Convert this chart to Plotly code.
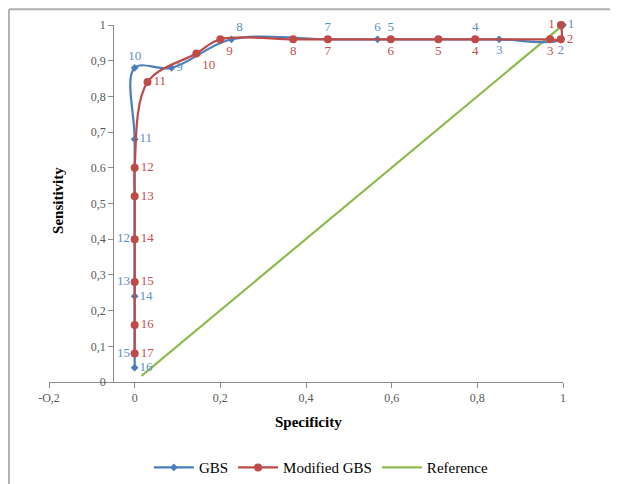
import plotly.graph_objects as go

# GBS series
gbs_x = [1.0, 0.995, 0.851, 0.795, 0.598, 0.567, 0.451, 0.226, 0.086, 0.0, 0.0, 0.0, 0.0, 0.0, 0.0, 0.0]
gbs_y = [1.0, 0.96, 0.96, 0.96, 0.96, 0.96, 0.96, 0.96, 0.88, 0.88, 0.68, 0.40, 0.28, 0.24, 0.08, 0.04]
gbs_labels = [str(i) for i in range(1, 17)]
gbs_pos = ["middle right", "bottom center", "bottom center", "top center", "top center",
           "top center", "top center", "top right", "middle right", "top center",
           "middle right", "middle left", "middle left", "middle right", "middle left",
           "middle right"]

# Modified GBS series
mod_x = [0.995, 0.995, 0.97, 0.795, 0.709, 0.598, 0.451, 0.37, 0.2, 0.144, 0.03,
         0.0, 0.0, 0.0, 0.0, 0.0, 0.0]
mod_y = [1.0, 0.96, 0.96, 0.96, 0.96, 0.96, 0.96, 0.96, 0.96, 0.92, 0.84,
         0.60, 0.52, 0.40, 0.28, 0.16, 0.08]
mod_labels = [str(i) for i in range(1, 18)]
mod_pos = ["middle left", "middle right", "bottom center", "bottom center", "bottom center",
           "bottom center", "bottom center", "bottom center", "bottom right", "bottom right",
           "middle right", "middle right", "middle right", "middle right", "middle right",
           "middle right", "middle right"]

# Reference diagonal
ref_x = [0.016, 1.0]
ref_y = [0.017, 1.0]

x_ticks = [-0.2, 0, 0.2, 0.4, 0.6, 0.8, 1]
x_ticktext = ["-O,2", "0", "0,2", "0,4", "0,6", "0,8", "1"]
y_ticks = [0, 0.1, 0.2, 0.3, 0.4, 0.5, 0.6, 0.7, 0.8, 0.9, 1]
y_ticktext = ["0", "0,1", "0,2", "0,3", "0,4", "0,5", "0.6", "0,7", "0,8", "0,9", "1"]

BLUE = "#4a7ebb"
BLUE_T = "#5b8fc9"
RED = "#be4b48"
RED_T = "#c0504d"
GREEN = "#8fba4e"
SERIF = "Liberation Serif"

fig = go.Figure()
fig.add_trace(go.Scatter(
    x=ref_x, y=ref_y, mode="lines", name="Reference", cliponaxis=False,
    line=dict(color=GREEN, width=2.2), legendrank=3))
fig.add_trace(go.Scatter(
    x=gbs_x, y=gbs_y, mode="lines+markers+text", name="GBS", cliponaxis=False,
    line=dict(color=BLUE, width=2.2, shape="spline", smoothing=1),
    marker=dict(symbol="diamond", size=6, color=BLUE),
    text=gbs_labels, textposition=gbs_pos,
    textfont=dict(family=SERIF, size=13, color=BLUE_T), legendrank=1))
fig.add_trace(go.Scatter(
    x=mod_x, y=mod_y, mode="lines+markers+text", name="Modified GBS", cliponaxis=False,
    line=dict(color=RED, width=2.2, shape="spline", smoothing=1),
    marker=dict(symbol="circle", size=8, color=RED),
    text=mod_labels, textposition=mod_pos,
    textfont=dict(family=SERIF, size=13, color=RED_T), legendrank=2))

fig.update_layout(
    width=610, height=476,
    margin=dict(l=41, r=55, t=17, b=102, autoexpand=False),
    paper_bgcolor="white", plot_bgcolor="white",
    font=dict(family=SERIF, size=12, color="#595959"),
    showlegend=True,
    legend=dict(orientation="h", x=0.53, y=-0.24, xanchor="center", yanchor="middle",
                font=dict(family=SERIF, size=15, color="black"), traceorder="normal",
                itemwidth=40),
    xaxis=dict(range=[-0.2, 1.0], tickvals=x_ticks, ticktext=x_ticktext,
               automargin=False,
               showgrid=False, zeroline=False, showline=True, linecolor="#8c8c8c",
               linewidth=1, ticks="outside", ticklen=5, tickcolor="#8c8c8c",
               tickfont=dict(family=SERIF, size=12, color="#595959")),
    yaxis=dict(range=[0, 1.0], tickvals=y_ticks, ticktext=y_ticktext,
               anchor="free", position=0.125, automargin=False,
               showgrid=False, zeroline=False, showline=True, linecolor="#8c8c8c",
               linewidth=1, ticks="outside", ticklen=5, tickcolor="#8c8c8c",
               tickfont=dict(family=SERIF, size=12, color="#595959")),
    annotations=[
        dict(text="<b>Specificity</b>", x=0.504, y=-0.14, xref="paper", yref="paper",
             showarrow=False, font=dict(family=SERIF, size=15, color="black")),
        dict(text="<b>Sensitivity</b>", x=-0.002, y=0.51, xref="paper", yref="paper",
             showarrow=False, textangle=-90, font=dict(family=SERIF, size=15, color="black")),
    ],
    shapes=[
        dict(type="line", xref="paper", yref="paper", x0=-0.078, x1=1.2, y0=1.044, y1=1.044,
             line=dict(color="#b0b0b0", width=2)),
        dict(type="line", xref="paper", yref="paper", x0=-0.078, x1=-0.078, y0=1.044, y1=-0.3,
             line=dict(color="#b0b0b0", width=2)),
    ],
)

fig.write_html("out.html")
